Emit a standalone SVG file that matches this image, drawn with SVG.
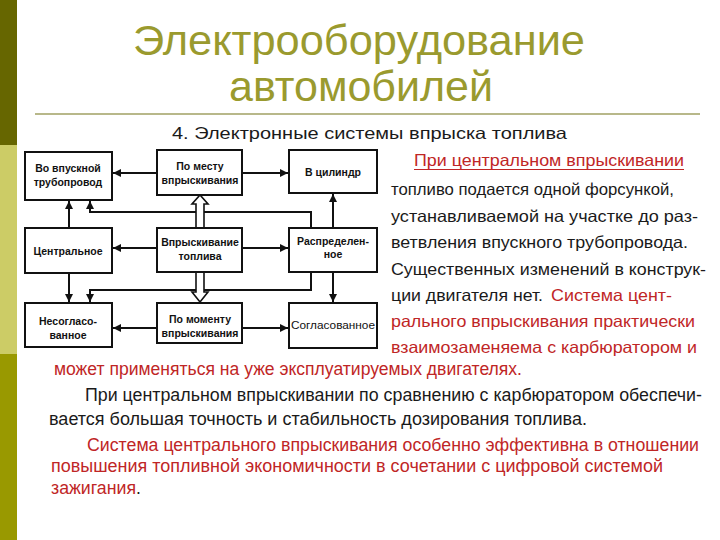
<svg xmlns="http://www.w3.org/2000/svg" width="720" height="540" viewBox="0 0 720 540">
<defs>
<style>
.title{font-family:"Liberation Sans",Arial,sans-serif;font-size:43px;fill:#9a9a2e;text-anchor:middle}
.sub{font-family:"Liberation Sans",Arial,sans-serif;font-size:16.5px;fill:#1a1a1a}
.t{font-family:"Liberation Sans",Arial,sans-serif;font-size:16.5px;fill:#1a1a1a}
.b{font-size:17.5px}
.r{fill:#bf2626}
.box{fill:#ffffff;stroke:#111;stroke-width:2}
.lbl{font-family:"Liberation Sans",Arial,sans-serif;font-size:10.5px;font-weight:bold;fill:#111;text-anchor:middle}
.lblr{font-family:"Liberation Sans",Arial,sans-serif;font-size:11px;fill:#111;text-anchor:middle}
.ln{fill:none;stroke:#111;stroke-width:2}
.hollow{fill:#fff;stroke:#111;stroke-width:1.6}
</style>
<marker id="ah" viewBox="0 0 10 10" refX="10" refY="5" markerWidth="4" markerHeight="4" orient="auto" markerUnits="strokeWidth">
<path d="M0,0 L10,5 L0,10 z" fill="#111"/>
</marker>
</defs>
<rect width="720" height="540" fill="#ffffff"/>
<g id="sidebar">
<rect x="0" y="0" width="17" height="145" fill="#666600"/>
<rect x="0" y="145" width="17" height="209" fill="#cccc66"/>
<rect x="0" y="354" width="17" height="186" fill="#999900"/>
</g>
<g id="title">
<text class="title" x="359" y="55" textLength="452" lengthAdjust="spacingAndGlyphs">Электрооборудование</text>
<text class="title" x="361" y="101" textLength="264" lengthAdjust="spacingAndGlyphs">автомобилей</text>
<line x1="35" y1="114" x2="700" y2="114" stroke="#b8b88a" stroke-width="2"/>
</g>
<text class="sub" x="172" y="139" textLength="395" lengthAdjust="spacingAndGlyphs">4. Электронные системы впрыска топлива</text>

<g id="connectors">
<line class="ln" x1="157" y1="173" x2="113" y2="173" marker-end="url(#ah)"/>
<line class="ln" x1="242" y1="173" x2="288" y2="173" marker-end="url(#ah)"/>
<line class="ln" x1="69" y1="228" x2="69" y2="201" marker-end="url(#ah)"/>
<polyline class="ln" points="311,228 311,212 90,212 90,201" marker-end="url(#ah)"/>
<line class="ln" x1="333" y1="228" x2="333" y2="194" marker-end="url(#ah)"/>
<line class="ln" x1="157" y1="248" x2="113" y2="248" marker-end="url(#ah)"/>
<line class="ln" x1="242" y1="248" x2="288" y2="248" marker-end="url(#ah)"/>
<line class="ln" x1="69" y1="273" x2="69" y2="302" marker-end="url(#ah)"/>
<polyline class="ln" points="311,272 311,290 90,290 90,302" marker-end="url(#ah)"/>
<line class="ln" x1="333" y1="272" x2="333" y2="302" marker-end="url(#ah)"/>
<line class="ln" x1="157" y1="328" x2="113" y2="328" marker-end="url(#ah)"/>
<line class="ln" x1="242" y1="328" x2="288" y2="328" marker-end="url(#ah)"/>
<path class="hollow" d="M196,228 L196,204 L192,204 L200,195 L208,204 L204,204 L204,228"/>
<path class="hollow" d="M196,272 L196,292 L192,292 L200,302 L208,292 L204,292 L204,272"/>
</g>

<g id="n1"><rect class="box" x="25" y="152" width="87" height="48"/><text class="lbl" x="68" y="172">Во впускной</text><text class="lbl" x="68" y="186">трубопровод</text></g>
<g id="n2"><rect class="box" x="157" y="150" width="85" height="45"/><text class="lbl" x="200" y="170">По месту</text><text class="lbl" x="200" y="184">впрыскивания</text></g>
<g id="n3"><rect class="box" x="289" y="150" width="88" height="43"/><text class="lbl" x="333" y="176">В цилиндр</text></g>
<g id="n4"><rect class="box" x="25" y="228" width="87" height="45"/><text class="lbl" x="68" y="255">Центральное</text></g>
<g id="n5"><rect class="box" x="157" y="228" width="85" height="44"/><text class="lbl" x="200" y="246">Впрыскивание</text><text class="lbl" x="200" y="260">топлива</text></g>
<g id="n6"><rect class="box" x="289" y="228" width="88" height="44"/><text class="lbl" x="333" y="245">Распределен-</text><text class="lbl" x="333" y="258">ное</text></g>
<g id="n7"><rect class="box" x="25" y="303" width="87" height="44"/><text class="lbl" x="68" y="325">Несогласо-</text><text class="lbl" x="68" y="339">ванное</text></g>
<g id="n8"><rect class="box" x="157" y="303" width="85" height="40"/><text class="lbl" x="200" y="323">По моменту</text><text class="lbl" x="200" y="337">впрыскивания</text></g>
<g id="n9"><rect class="box" x="289" y="303" width="88" height="45"/><text class="lblr" x="333" y="329" textLength="84" lengthAdjust="spacingAndGlyphs">Согласованное</text></g>

<g id="text-right">
<text class="t r" x="414" y="166" textLength="270" lengthAdjust="spacingAndGlyphs">При центральном впрыскивании</text>
<line x1="414" y1="169.5" x2="684" y2="169.5" stroke="#bf2626" stroke-width="1"/>
<text class="t" x="391" y="195" textLength="283" lengthAdjust="spacingAndGlyphs">топливо подается одной форсункой,</text>
<text class="t" x="391" y="222" textLength="307" lengthAdjust="spacingAndGlyphs">устанавливаемой на участке до раз-</text>
<text class="t" x="391" y="248" textLength="297" lengthAdjust="spacingAndGlyphs">ветвления впускного трубопровода.</text>
<text class="t" x="391" y="275" textLength="315" lengthAdjust="spacingAndGlyphs">Существенных изменений в конструк-</text>
<text class="t" x="391" y="301" textLength="152" lengthAdjust="spacingAndGlyphs">ции двигателя нет.</text>
<text class="t r" x="551" y="301" textLength="121" lengthAdjust="spacingAndGlyphs">Система цент-</text>
<text class="t r" x="391" y="327" textLength="304" lengthAdjust="spacingAndGlyphs">рального впрыскивания практически</text>
<text class="t r" x="391" y="353" textLength="306" lengthAdjust="spacingAndGlyphs">взаимозаменяема с карбюратором и</text>
</g>
<g id="text-bottom">
<text class="t b r" x="54" y="375" textLength="468" lengthAdjust="spacingAndGlyphs">может применяться на уже эксплуатируемых двигателях.</text>
<text class="t b" x="85" y="401" textLength="617" lengthAdjust="spacingAndGlyphs">При центральном впрыскивании по сравнению с карбюратором обеспечи-</text>
<text class="t b" x="49" y="425" textLength="538" lengthAdjust="spacingAndGlyphs">вается большая точность и стабильность дозирования топлива.</text>
<text class="t b r" x="87" y="451" textLength="612" lengthAdjust="spacingAndGlyphs">Система центрального впрыскивания особенно эффективна в отношении</text>
<text class="t b r" x="51" y="472" textLength="612" lengthAdjust="spacingAndGlyphs">повышения топливной экономичности в сочетании с цифровой системой</text>
<text class="t b r" x="51" y="494" textLength="85" lengthAdjust="spacingAndGlyphs">зажигания</text><text class="t b" x="136" y="494">.</text>
</g>
</svg>
